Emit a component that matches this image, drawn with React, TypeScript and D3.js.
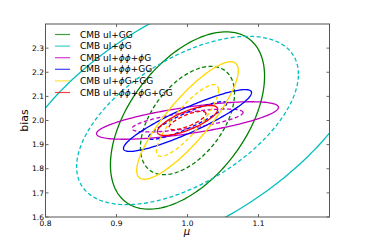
import React from 'react';
import * as d3 from 'd3';

// forecast ellipses, all centred on the fiducial (mu = 1, bias = 2)
const labels = ['CMB ul+GG', 'CMB ul+\u03d5G', 'CMB ul+\u03d5\u03d5+\u03d5G', 'CMB ul+\u03d5\u03d5+GG', 'CMB ul+\u03d5G+GG', 'CMB ul+\u03d5\u03d5+\u03d5G+GG'];
const colors = ['#008000', '#00bfbf', '#bf00bf', '#0000ff', '#ffd700', '#ff0000'];
const sigmaMu = [0.0437, 0.103, 0.0516, 0.0363, 0.0288, 0.0171];
const sigmaBias = [0.148, 0.23, 0.0313, 0.0516, 0.098, 0.025];
const rho = [0.5, 0.55, 0.7, 0.9, 0.85, 0.75];
const fiducial = {mu: 1.0, bias: 2.0};
// delta chi2 = 2.30 (68%) dashed, 6.17 (95%) solid
const levels = [Math.sqrt(2.3), Math.sqrt(6.17)];

const xTicks = [0.8, 0.9, 1.0, 1.1];
const yTicks = [1.6, 1.7, 1.8, 1.9, 2.0, 2.1, 2.2, 2.3];

const W = 366, H = 242;
const m = {left: 45.5, right: 329.5, top: 24, bottom: 217};

const x = d3.scaleLinear().domain([0.8, 1.2]).range([m.left, m.right]);
const y = d3.scaleLinear().domain([1.6, 2.4]).range([m.bottom, m.top]);

const ellipse = (i: number, k: number) => {
  const t = d3.range(0, 2 * Math.PI, Math.PI / 90);
  const r = rho[i];
  const pts = t.map(a => [
    fiducial.mu + k * sigmaMu[i] * Math.cos(a),
    fiducial.bias + k * sigmaBias[i] * (r * Math.cos(a) + Math.sqrt(1 - r * r) * Math.sin(a)),
  ]);
  return d3.line<number[]>().x(d => x(d[0])).y(d => y(d[1])).curve(d3.curveLinearClosed)(pts) || '';
};

export default function App() {
  const font = '"DejaVu Sans", sans-serif';

  const renderLabel = (s: string) =>
    s.split(/(\u03d5)/).filter(p => p).map((p, j) =>
      p === '\u03d5'
        ? <tspan key={j} fontStyle="italic">{p}</tspan>
        : <tspan key={j}>{p}</tspan>);

  return (
    <svg width={W} height={H} style={{position: 'absolute', left: 0, top: 0, background: '#fff'}} fontFamily={font}>
      <defs>
        <clipPath id="plot">
          <rect x={m.left} y={m.top} width={m.right - m.left} height={m.bottom - m.top} />
        </clipPath>
      </defs>

      <g clipPath="url(#plot)">
        {labels.map((_, i) => (
          <g key={i} stroke={colors[i]} fill="none" strokeWidth={1.3}>
            <path d={ellipse(i, levels[1])} />
            <path d={ellipse(i, levels[0])} strokeDasharray="4,2.5" />
          </g>
        ))}
      </g>

      {/* legend, no frame */}
      {labels.map((l, i) => {
        const ly = 34.5 + i * 11.6;
        return (
          <g key={l}>
            <line x1={55} x2={70} y1={ly} y2={ly} stroke={colors[i]} strokeWidth={1.2} opacity={0.75} />
            <text x={80} y={ly} dy="0.35em" fontSize={9} fill="#000">{renderLabel(l)}</text>
          </g>
        );
      })}

      {/* ticks, inside on all four sides */}
      <g stroke="#444" strokeWidth={0.8}>
        {xTicks.map(t => (
          <g key={t}>
            <line x1={x(t)} x2={x(t)} y1={m.bottom} y2={m.bottom - 3} />
            <line x1={x(t)} x2={x(t)} y1={m.top} y2={m.top + 3} />
          </g>
        ))}
        {yTicks.map(t => (
          <g key={t}>
            <line x1={m.left} x2={m.left + 3} y1={y(t)} y2={y(t)} />
            <line x1={m.right} x2={m.right - 3} y1={y(t)} y2={y(t)} />
          </g>
        ))}
      </g>

      <rect x={m.left} y={m.top} width={m.right - m.left} height={m.bottom - m.top}
        fill="none" stroke="#555" strokeWidth={1} />

      <g fontSize={7.5} fill="#000">
        {xTicks.map(t => (
          <text key={t} x={x(t)} y={225.5} textAnchor="middle">{d3.format('.1f')(t)}</text>
        ))}
        {yTicks.map(t => (
          <text key={t} x={44} y={y(t)} dy="0.35em" textAnchor="end">{d3.format('.1f')(t)}</text>
        ))}
      </g>

      <text x={187} y={235} fontSize={10} fontStyle="italic" textAnchor="middle">μ</text>
      <text transform="translate(28,120.5) rotate(-90)" fontSize={11} textAnchor="middle">bias</text>
    </svg>
  );
}
